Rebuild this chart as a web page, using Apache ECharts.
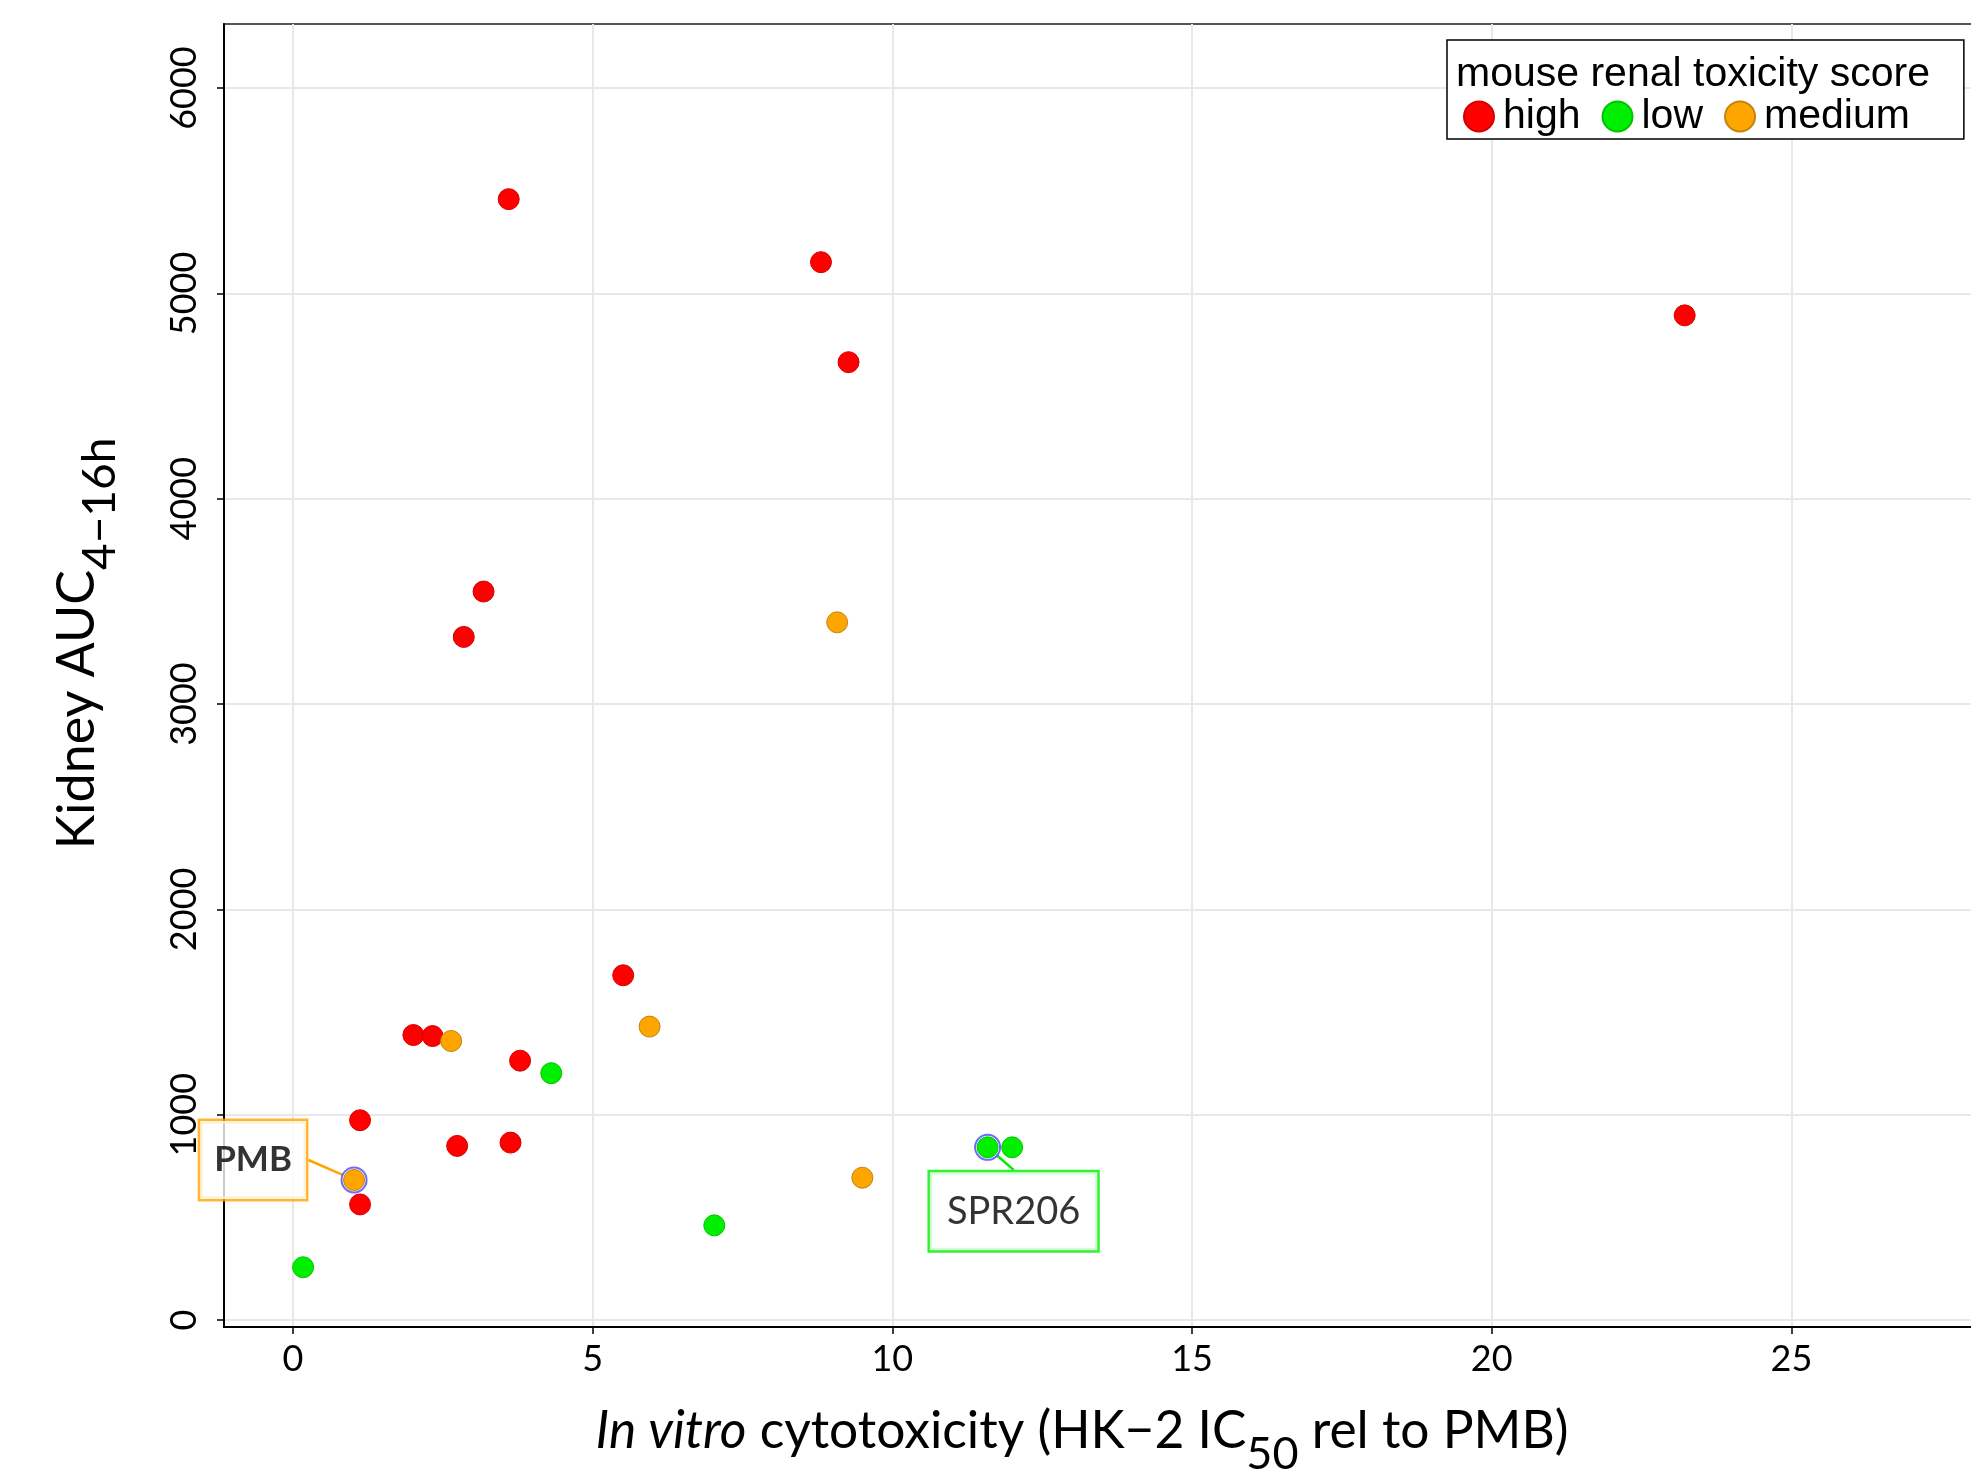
<!DOCTYPE html>
<html>
<head>
<meta charset="utf-8">
<script src="https://cdn.jsdelivr.net/npm/echarts@6/dist/echarts.min.js"></script>
<style>
html,body{margin:0;padding:0;background:#fff;}
#chart{width:1971px;height:1470px;}
</style>
</head>
<body>
<div id="chart"></div>
<script>
// ---- data ----
var categories = ['high', 'low', 'medium'];
var highX = [3.60, 8.81, 9.27, 23.22, 3.18, 2.85, 5.51, 2.01, 2.33, 3.79, 1.12, 2.74, 3.63, 1.12];
var highY = [5459, 5152, 4665, 4893, 3548, 3327, 1679, 1388, 1383, 1263, 973, 848, 864, 563];
var lowX = [4.31, 0.17, 7.03, 11.59, 12.00];
var lowY = [1202, 257, 461, 841, 841];
var mediumX = [9.08, 2.64, 5.95, 9.50, 1.02];
var mediumY = [3398, 1359, 1429, 693, 682];
var labelNames = ['PMB', 'SPR206'];
var labelX = [1.02, 11.59];
var labelY = [682, 841];
var xTicks = [0, 5, 10, 15, 20, 25];
var yTicks = [0, 1000, 2000, 3000, 4000, 5000, 6000];

function pairs(xs, ys) { return xs.map(function (x, i) { return [x, ys[i]]; }); }

var colors = { high: '#ff0000', low: '#00ee00', medium: '#ffa500' };
var borders = { high: '#d40000', low: '#00c400', medium: '#c08410' };
var values = { high: pairs(highX, highY), low: pairs(lowX, lowY), medium: pairs(mediumX, mediumY) };

var FONT = 'Lato';
var labelColors = ['#ffa500', '#00ee00'];
var labelOffsets = [[-101, -20], [26, 64]];

var series = categories.map(function (c) {
  return {
    name: c,
    type: 'scatter',
    data: values[c],
    symbol: 'circle',
    symbolSize: 21,
    itemStyle: { color: colors[c], borderColor: borders[c], borderWidth: 1, opacity: 1 },
    z: 3
  };
});

series.push({
  name: 'labelled',
  type: 'scatter',
  symbol: 'circle',
  symbolSize: 25,
  z: 5,
  itemStyle: { color: 'rgba(0,0,0,0)', borderColor: '#4646ff', borderWidth: 2 },
  data: labelNames.map(function (n, i) {
    return {
      name: n,
      value: [labelX[i], labelY[i]],
      label: {
        show: true,
        position: 'inside',
        formatter: '{b}',
        color: '#000',
        textBorderWidth: 0,
        fontFamily: FONT,
        fontSize: i === 0 ? 35 : 38,
        fontWeight: i === 0 ? 'bold' : 'normal',
        lineHeight: 38,
        backgroundColor: '#fff',
        borderColor: labelColors[i],
        borderWidth: 2.5,
        padding: i === 0 ? [20, 14, 20, 14] : [20, 17, 20, 17]
      },
      labelLine: { show: true, lineStyle: { color: labelColors[i], width: 2.5 } }
    };
  }),
  labelLayout: function (p) {
    var o = labelOffsets[p.dataIndex];
    return { dx: o[0], dy: o[1] };
  },
  labelLine: { show: true },
  emphasis: { disabled: true }
});

var chart = echarts.init(document.getElementById('chart'));
chart.setOption({
  animation: false,
  backgroundColor: '#fff',
  title: {
    text: 'mouse renal toxicity score',
    left: 1456, top: 54, padding: 0, z: 20,
    textStyle: { fontFamily: 'Liberation Sans', fontSize: 41, fontWeight: 'normal', color: '#000' }
  },
  legend: {
    data: categories,
    left: 1447, top: 40,
    orient: 'horizontal',
    padding: [56, 54, 2, 16],
    itemWidth: 30, itemHeight: 30, itemGap: 21,
    icon: 'circle',
    backgroundColor: '#fff',
    borderColor: '#000', borderWidth: 1.5,
    z: 10,
    textStyle: { fontFamily: 'Liberation Sans', fontSize: 41, color: '#000', lineHeight: 30, padding: [0, 0, 0, 4] }
  },
  grid: { left: 224, right: -5, top: 24, bottom: 143, show: true, borderColor: '#555', borderWidth: 2, backgroundColor: 'transparent', containLabel: false, outerBoundsMode: 'none' },
  xAxis: {
    type: 'value',
    min: -1.15, max: 28.08,
    splitNumber: 6,
    name: '{it|In vitro}{m| cytotoxicity (HK\u22122 IC}{sub|50}{m| rel to PMB)}',
    nameLocation: 'middle',
    nameGap: 78,
    nameTextStyle: {
      padding: [0, 36, 0, 0],
      rich: {
        it: { fontFamily: FONT, fontSize: 51.5, fontStyle: 'italic', color: '#000', lineHeight: 56, verticalAlign: 'top' },
        m: { fontFamily: FONT, fontSize: 51.5, color: '#000', lineHeight: 56, verticalAlign: 'top' },
        sub: { fontFamily: FONT, fontSize: 45, color: '#000', lineHeight: 50, padding: [27, 0, 0, 0], verticalAlign: 'top' }
      }
    },
    axisLine: { show: true, onZero: false, lineStyle: { color: '#000', width: 2 } },
    axisTick: { show: true, length: 7, lineStyle: { color: '#000', width: 1.5 }, customValues: xTicks },
    axisLabel: { customValues: xTicks, fontFamily: FONT, fontSize: 36, color: '#000', margin: 14 },
    splitLine: { show: true, lineStyle: { color: '#e8e8e8', width: 2 } }
  },
  yAxis: {
    type: 'value',
    min: -34, max: 6312,
    splitNumber: 6,
    name: '{m|Kidney AUC}{sub|4\u221216h}',
    nameLocation: 'middle',
    nameRotate: 90,
    nameGap: 115,
    nameTextStyle: {
      padding: [0, 0, 0, 64],
      rich: {
        m: { fontFamily: FONT, fontSize: 52, color: '#000', lineHeight: 58, verticalAlign: 'top' },
        sub: { fontFamily: FONT, fontSize: 46, color: '#000', lineHeight: 52, padding: [26, 0, 0, 0], verticalAlign: 'top' }
      }
    },
    axisLine: { show: true, onZero: false, lineStyle: { color: '#000', width: 2 } },
    axisTick: { show: true, length: 7, lineStyle: { color: '#000', width: 1.5 }, customValues: yTicks },
    axisLabel: { customValues: yTicks, rotate: 90, fontFamily: FONT, fontSize: 36, color: '#000', margin: 22,
      formatter: function (v) { return String(v); } },
    splitLine: { show: true, lineStyle: { color: '#e8e8e8', width: 2 } }
  },
  series: series
});
</script>
</body>
</html>
